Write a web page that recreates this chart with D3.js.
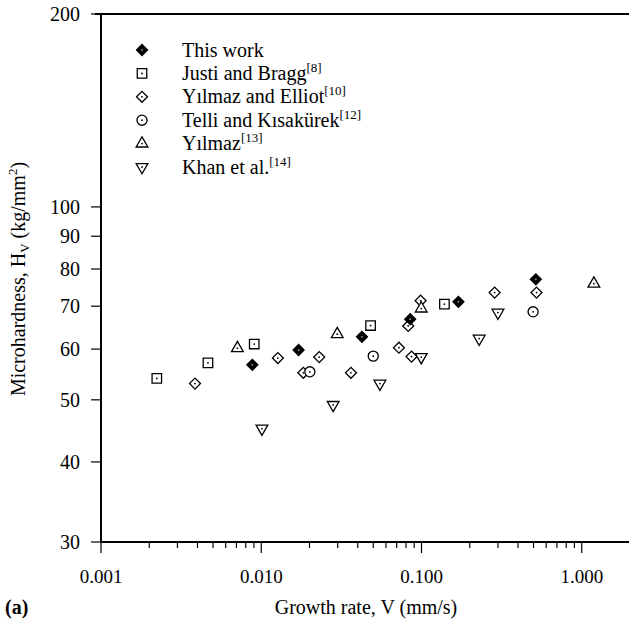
<!DOCTYPE html>
<html>
<head>
<meta charset="utf-8">
<script src="https://cdn.jsdelivr.net/npm/d3@7"></script>
<style>
  body { margin: 0; background: #fff; }
  svg { display: block; font-family: "Liberation Serif", "Times New Roman", serif; opacity: 0.999; -webkit-font-smoothing: antialiased; }
  text { fill: #000; }
</style>
</head>
<body>
<div id="chart"></div>
<script>
// values
const thisWorkV = [0.0088, 0.0171, 0.0425, 0.085, 0.170, 0.517];
const thisWorkH = [56.7, 59.8, 62.7, 66.8, 71.1, 77.1];
const justiV = [0.00223, 0.00465, 0.00904, 0.0481, 0.139];
const justiH = [54.0, 57.1, 61.1, 65.3, 70.5];
const elliotV = [0.00386, 0.0127, 0.0183, 0.023, 0.0363, 0.0723, 0.0867, 0.0826, 0.0987, 0.286, 0.522];
const elliotH = [53.0, 58.1, 55.1, 58.3, 55.1, 60.3, 58.4, 65.2, 71.4, 73.5, 73.5];
const telliV = [0.0201, 0.050, 0.497];
const telliH = [55.3, 58.5, 68.6];
const yilmazV = [0.0071, 0.0298, 0.0996, 1.19];
const yilmazH = [60.2, 63.3, 69.4, 75.9];
const khanV = [0.0101, 0.0281, 0.055, 0.0996, 0.229, 0.30];
const khanH = [45.1, 49.1, 53.0, 58.3, 62.3, 68.4];

const legendNames = ["This work", "Justi and Bragg", "Yılmaz and Elliot", "Telli and Kısakürek", "Yılmaz", "Khan et al."];
const legendRefs = ["", "[8]", "[10]", "[12]", "[13]", "[14]"];

const xTickValues = [0.001, 0.01, 0.1, 1];
const xTickLabels = ["0.001", "0.010", "0.100", "1.000"];
const yTickValues = [30, 40, 50, 60, 70, 80, 90, 100, 200];

const width = 629, height = 625;

const x = d3.scaleLog().domain([0.001, 2]).range([101, 630]);
const y = d3.scaleLog().domain([30, 200]).range([542, 14]);

const svg = d3.select("#chart").append("svg")
  .attr("width", width)
  .attr("height", height);

// marker shapes
const shapes = {
  filled: { type: d3.symbolSquare, size: 60, rotate: 45, fill: "#000" },
  square: { type: d3.symbolSquare, size: 90, rotate: 0, fill: "#fff" },
  diamond: { type: d3.symbolSquare, size: 60, rotate: 45, fill: "#fff" },
  circle: { type: d3.symbolCircle, size: 80, rotate: 0, fill: "#fff" },
  up: { type: d3.symbolTriangle, size: 60, rotate: 0, fill: "#fff" },
  down: { type: d3.symbolTriangle, size: 60, rotate: 180, fill: "#fff" }
};

const series = [
  { name: "justi", v: justiV, h: justiH, shape: "square" },
  { name: "elliot", v: elliotV, h: elliotH, shape: "diamond" },
  { name: "telli", v: telliV, h: telliH, shape: "circle" },
  { name: "yilmaz", v: yilmazV, h: yilmazH, shape: "up" },
  { name: "khan", v: khanV, h: khanH, shape: "down" },
  { name: "this", v: thisWorkV, h: thisWorkH, shape: "filled" }
];
const legendShapes = ["filled", "square", "diamond", "circle", "up", "down"];

function drawMarker(g, shapeKey) {
  const s = shapes[shapeKey];
  g.append("path")
    .attr("d", d3.symbol().type(s.type).size(s.size)())
    .attr("transform", `rotate(${s.rotate})`)
    .attr("fill", s.fill)
    .attr("stroke", "#000")
    .attr("stroke-width", 1.3);
  g.append("circle")
    .attr("r", 0.9)
    .attr("fill", s.fill === "#000" ? "#999" : "#000");
}

// axes
const xAxis = svg.append("g").attr("transform", `translate(0,${y(30)})`);
xAxis.append("line")
  .attr("x1", x(0.001)).attr("x2", width)
  .attr("stroke", "#000").attr("stroke-width", 2);

const minorTicks = [];
[0.001, 0.01, 0.1, 1].forEach(d => {
  for (let k = 2; k <= 9; k++) {
    if (d * k <= 2) minorTicks.push(d * k);
  }
});
xAxis.selectAll(".minor")
  .data(minorTicks)
  .join("line")
  .attr("x1", d => x(d)).attr("x2", d => x(d))
  .attr("y1", 0).attr("y2", 6)
  .attr("stroke", "#000").attr("stroke-width", 1.2);
xAxis.selectAll(".major")
  .data(xTickValues)
  .join("line")
  .attr("x1", d => x(d)).attr("x2", d => x(d))
  .attr("y1", 0).attr("y2", 11)
  .attr("stroke", "#000").attr("stroke-width", 1.2);
xAxis.selectAll(".xlab")
  .data(xTickValues)
  .join("text")
  .attr("x", d => x(d))
  .attr("y", 41)
  .attr("text-anchor", "middle")
  .attr("font-size", 19)
  .text((d, i) => xTickLabels[i]);

const yAxis = svg.append("g").attr("transform", `translate(${x(0.001)},0)`);
yAxis.append("line")
  .attr("y1", y(200)).attr("y2", y(30))
  .attr("stroke", "#000").attr("stroke-width", 2);
yAxis.selectAll(".ytick")
  .data(yTickValues)
  .join("line")
  .attr("x1", -10).attr("x2", 0)
  .attr("y1", d => y(d)).attr("y2", d => y(d))
  .attr("stroke", "#000").attr("stroke-width", 1.2);
yAxis.selectAll(".ylab")
  .data(yTickValues)
  .join("text")
  .attr("x", -21)
  .attr("y", d => y(d))
  .attr("dy", "0.34em")
  .attr("text-anchor", "end")
  .attr("font-size", 20)
  .text(d => d);

// top border line
svg.append("line")
  .attr("x1", x(0.001) - 6).attr("x2", width)
  .attr("y1", y(200)).attr("y2", y(200))
  .attr("stroke", "#000").attr("stroke-width", 2);

// axis titles
svg.append("text")
  .attr("x", 366)
  .attr("y", 614)
  .attr("text-anchor", "middle")
  .attr("font-size", 20)
  .text("Growth rate, V (mm/s)");

svg.append("text")
  .attr("x", 5)
  .attr("y", 614)
  .attr("font-size", 20)
  .attr("font-weight", "bold")
  .text("(a)");

const yTitle = svg.append("text")
  .attr("transform", "translate(25,279) rotate(-90)")
  .attr("text-anchor", "middle")
  .attr("font-size", 20);
yTitle.append("tspan").text("Microhardness, H");
yTitle.append("tspan").attr("font-size", 13).attr("dy", 4).text("V");
yTitle.append("tspan").attr("dy", -4).text(" (kg/mm");
yTitle.append("tspan").attr("font-size", 13).attr("dy", -8).text("2");
yTitle.append("tspan").attr("dy", 8).text(")");

// points
series.forEach(s => {
  const pts = s.v.map((v, i) => ({ v: v, h: s.h[i] }));
  svg.append("g")
    .selectAll("g")
    .data(pts)
    .join("g")
    .attr("transform", d => `translate(${x(d.v)},${y(d.h)})`)
    .each(function () { drawMarker(d3.select(this), s.shape); });
});

// legend
const legend = svg.append("g");
legendNames.forEach((name, i) => {
  const row = legend.append("g").attr("transform", `translate(0,${50 + i * 23.4})`);
  drawMarker(row.append("g").attr("transform", "translate(142,0)"), legendShapes[i]);
  const t = row.append("text")
    .attr("x", 182)
    .attr("dy", "0.33em")
    .attr("font-size", 20)
    .attr("fill", "#000");
  t.append("tspan").text(name);
  if (legendRefs[i]) {
    t.append("tspan").attr("font-size", 13).attr("fill", "#000").attr("dy", -8).text(legendRefs[i]);
  }
});
</script>
</body>
</html>
